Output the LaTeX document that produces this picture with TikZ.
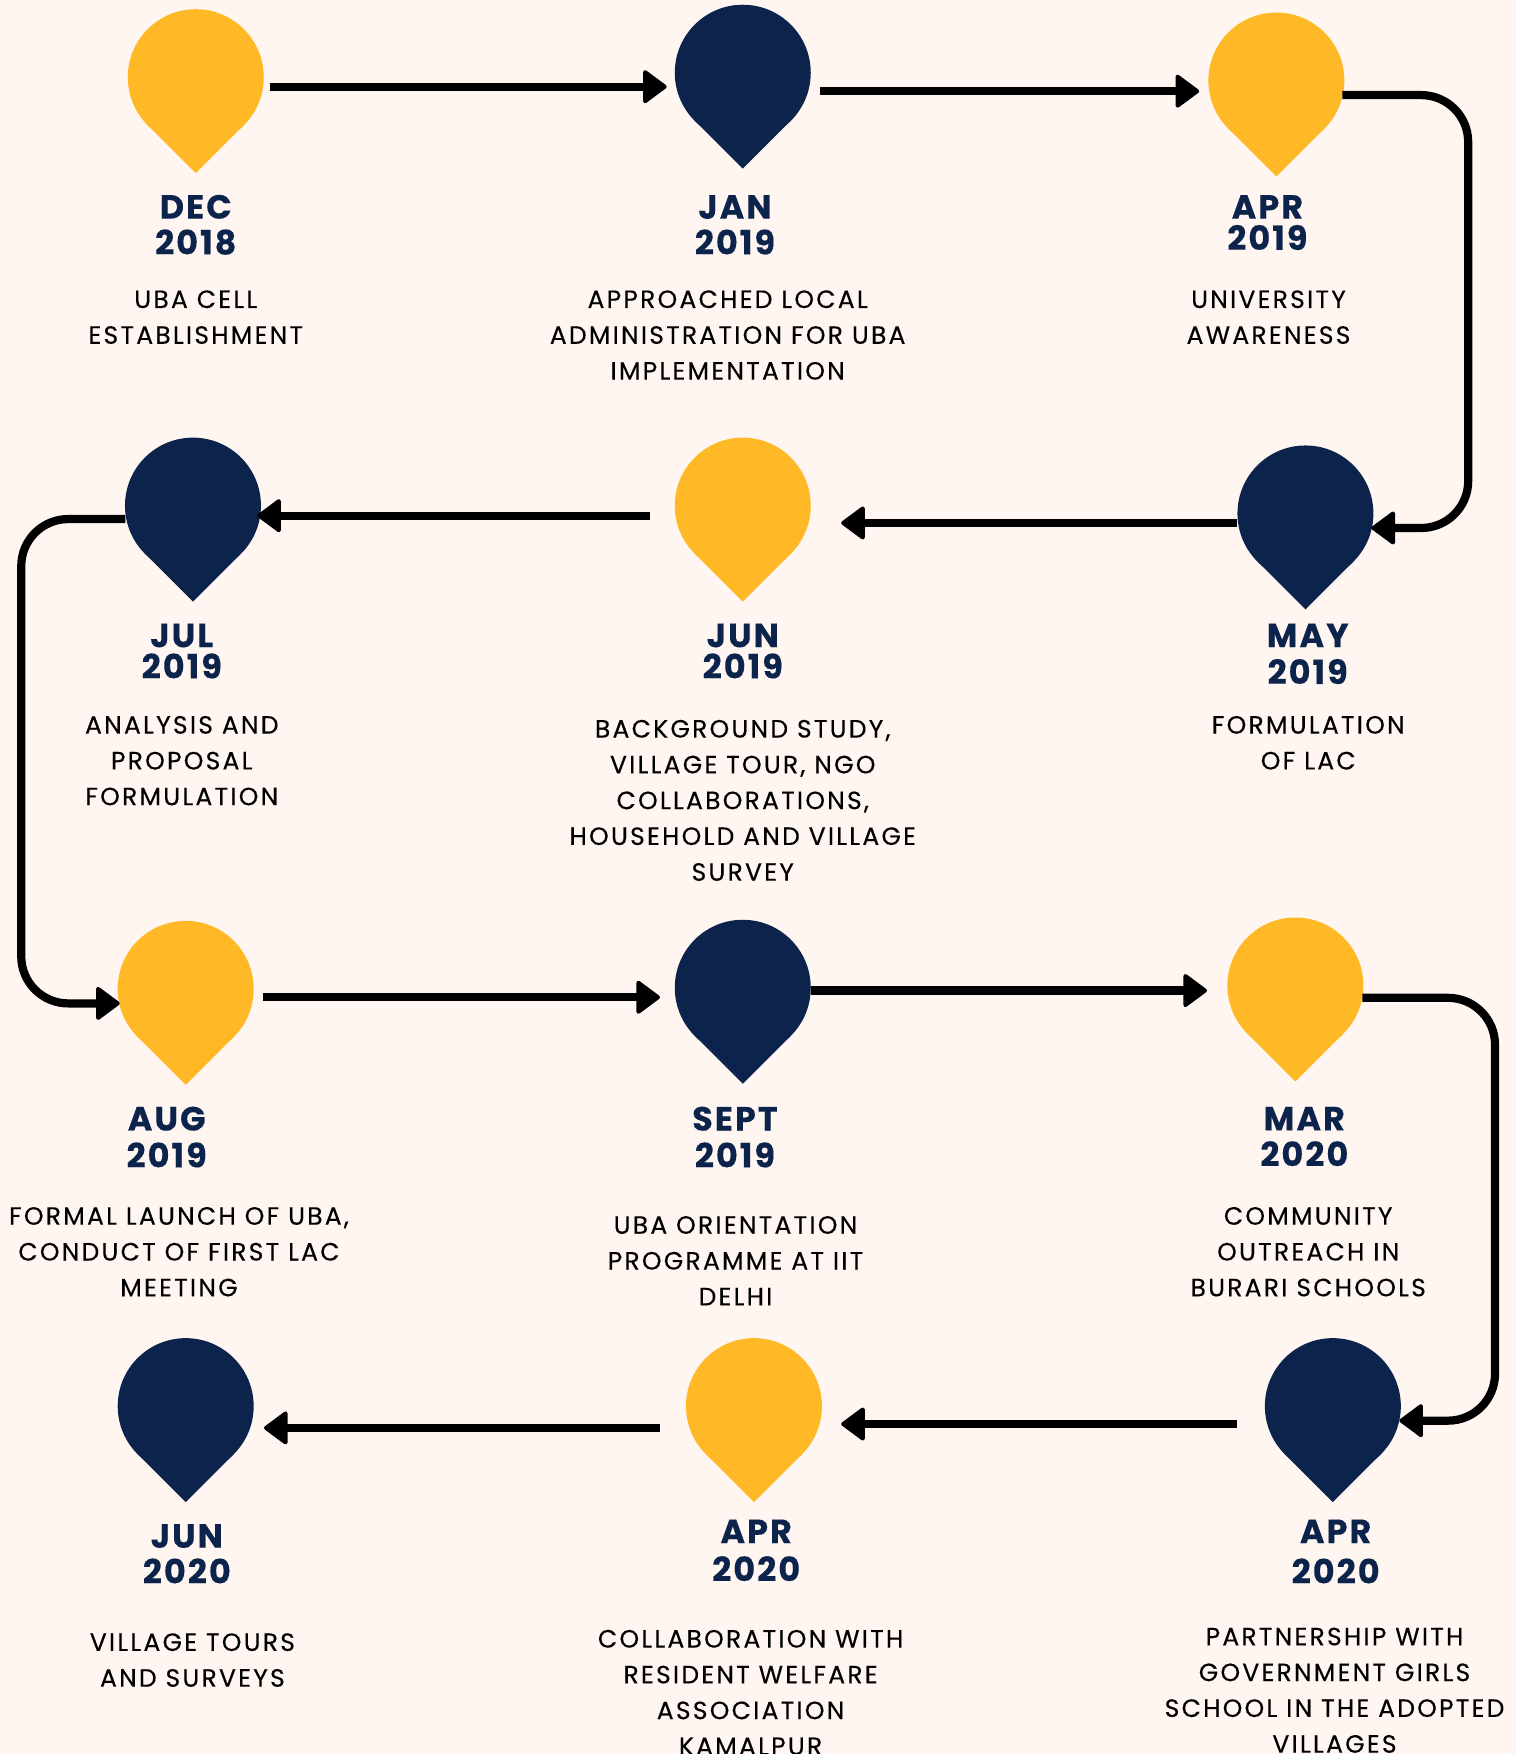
\documentclass[tikz,border=0pt]{standalone}
\usepackage{fontspec}
\setmainfont{Poppins}
\newfontfamily\bodyf[LetterSpace=9,FakeBold=0.25]{Poppins}
\newfontfamily\titlef[LetterSpace=6,BoldFeatures={FakeBold=0.2}]{Poppins}
\usetikzlibrary{arrows.meta,calc}
\definecolor{bgc}{HTML}{FFF6F1}
\definecolor{amber}{HTML}{FFB826}
\definecolor{navy}{HTML}{0C244B}
\tikzset{
  pinhead/.style={circle,inner sep=0pt,outer sep=0pt,minimum size=136pt},
  conn/.style={line width=8.2pt,black,-{Triangle[round,length=25pt,width=36pt,line width=4pt]}},
  elbow/.style={rounded corners=47pt},
  titletext/.style={navy,align=center,inner sep=0pt},
  bodytext/.style={black,align=center,inner sep=0pt,font=\bodyf\fontsize{25}{35.8}\selectfont},
}
\newcommand\mypin[4]{%
  \node[pinhead,fill=#4] (#1) at (#2,#3) {};
  \fill[#4] (#1) ++(-42.9,42.9) -- ++(42.9,42.9) -- ++(42.9,-42.9) -- cycle;
}
\newcommand\mytitle[5]{%
  \node[titletext,font=\titlef\bfseries\fontsize{33.5}{#4}\selectfont] (#1) at (#2,#3) {#5};
}
\newcommand\mybody[4]{%
  \node[bodytext] (#1) at (#2,#3) {#4};
}
\newcommand\straight[5]{%
  \coordinate (#1s) at ($(#2)+#3$);
  \coordinate (#1e) at ($(#4)+#5$);
  \draw[conn] (#1s) -- (#1e);
}
\begin{document}
\begin{tikzpicture}[x=1.11882pt,y=-1.11882pt]
\fill[bgc] (0,0) rectangle (1355,1568);
\useasboundingbox (0,0) rectangle (1355,1568);
\mypin{p1}{175}{69}{amber}
\mypin{p2}{664}{65}{navy}
\mypin{p3}{1141}{72}{amber}
\mypin{p4}{1167}{459}{navy}
\mypin{p5}{664}{452}{amber}
\mypin{p6}{172.5}{452}{navy}
\mypin{p7}{166}{884}{amber}
\mypin{p8}{664}{883}{navy}
\mypin{p9}{1158}{881}{amber}
\mypin{p10}{1191.5}{1257}{navy}
\mypin{p11}{674}{1257}{amber}
\mypin{p12}{166}{1257}{navy}
% connectors
\straight{c1}{p1}{(66,8.5)}{p2}{(-68,12.5)}
\straight{c2}{p2}{(69,16.5)}{p3}{(-69,9.5)}
\coordinate (c3s) at ($(p3)+(59,13)$);
\coordinate (c3a) at (1312.5,85);
\coordinate (c3b) at (1312.5,472);
\coordinate (c3e) at ($(p4)+(59,13)$);
\draw[conn,elbow] (c3s) -- (c3a) -- (c3b) -- (c3e);
\straight{c4}{p4}{(-61,8.5)}{p5}{(88,15.5)}
\straight{c5}{p5}{(-83,9)}{p6}{(57.5,9)}
\coordinate (c6s) at ($(p6)+(-60.5,12)$);
\coordinate (c6a) at (19,464);
\coordinate (c6b) at (19,897);
\coordinate (c6e) at ($(p7)+(-59,13)$);
\draw[conn,elbow] (c6s) -- (c6a) -- (c6b) -- (c6e);
\straight{c7}{p7}{(69,7.5)}{p8}{(-74,8.5)}
\straight{c8}{p8}{(61,2.5)}{p9}{(-79,4.5)}
\coordinate (c9s) at ($(p9)+(60,11)$);
\coordinate (c9a) at (1336.5,892);
\coordinate (c9b) at (1336.5,1270);
\coordinate (c9e) at ($(p10)+(59.5,13)$);
\draw[conn,elbow] (c9s) -- (c9a) -- (c9b) -- (c9e);
\straight{c10}{p10}{(-85.5,16)}{p11}{(78,16)}
\straight{c11}{p11}{(-84,19.5)}{p12}{(70,19.5)}
% titles
\mytitle{t1}{175}{201}{35.8}{DEC\\2018}
\mytitle{t2}{657}{201}{35.8}{JAN\\2019}
\mytitle{t3}{1133}{199}{31.3}{APR\\2019}
\mytitle{t4}{1169}{584.5}{36.9}{MAY\\2019}
\mytitle{t5}{664}{582}{31.3}{JUN\\2019}
\mytitle{t6}{162.5}{582}{31.3}{JUL\\2019}
\mytitle{t7}{149}{1016.5}{36.9}{AUG\\2019}
\mytitle{t8}{657}{1016.5}{36.9}{SEPT\\2019}
\mytitle{t9}{1166}{1016}{35.8}{MAR\\2020}
\mytitle{t10}{1194}{1387}{40.3}{APR\\2020}
\mytitle{t11}{676}{1386}{38}{APR\\2020}
\mytitle{t12}{167}{1389}{35.8}{JUN\\2020}
% bodies
\mybody{b1}{175}{283.5}{UBA CELL\\ESTABLISHMENT}
\mybody{b2}{650.5}{299.5}{APPROACHED LOCAL\\ADMINISTRATION FOR UBA\\IMPLEMENTATION}
\mybody{b3}{1134}{283.5}{UNIVERSITY\\AWARENESS}
\mybody{b4}{1169.5}{664}{FORMULATION\\OF LAC}
\mybody{b5}{664}{715.5}{BACKGROUND STUDY,\\VILLAGE TOUR, NGO\\COLLABORATIONS,\\HOUSEHOLD AND VILLAGE\\SURVEY}
\mybody{b6}{162.5}{680}{ANALYSIS AND\\PROPOSAL\\FORMULATION}
\mybody{b7}{160}{1119}{FORMAL LAUNCH OF UBA,\\CONDUCT OF FIRST LAC\\MEETING}
\mybody{b8}{657.5}{1127}{UBA ORIENTATION\\PROGRAMME AT IIT\\DELHI}
\mybody{b9}{1169.5}{1119}{COMMUNITY\\OUTREACH IN\\BURARI SCHOOLS}
\mybody{b10}{1193}{1511}{PARTNERSHIP WITH\\GOVERNMENT GIRLS\\SCHOOL IN THE ADOPTED\\VILLAGES}
\mybody{b11}{671}{1513}{COLLABORATION WITH\\RESIDENT WELFARE\\ASSOCIATION\\KAMALPUR}
\mybody{b12}{172}{1484}{VILLAGE TOURS\\AND SURVEYS}
\end{tikzpicture}
\end{document}
